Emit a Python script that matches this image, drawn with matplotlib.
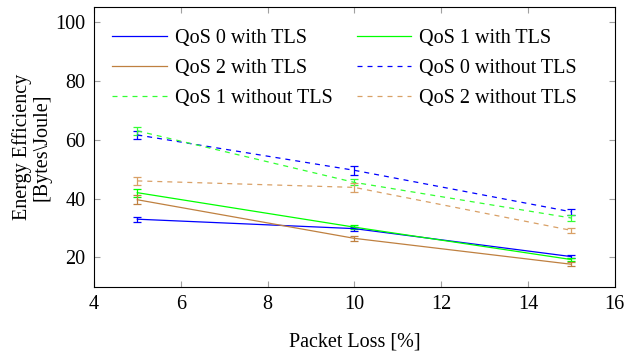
import matplotlib.pyplot as plt
from matplotlib.lines import Line2D

plt.rcParams['font.family'] = ['Liberation Serif', 'DejaVu Serif']

loss = [5, 10, 15]

qos0_tls = [33.0, 29.8, 20.3]
qos0_tls_err = [0.9, 0.7, 0.5]
qos1_tls = [42.0, 30.3, 19.3]
qos1_tls_err = [1.3, 0.6, 0.6]
qos2_tls = [39.6, 26.5, 17.7]
qos2_tls_err = [1.6, 0.9, 0.6]
qos0_notls = [61.6, 49.6, 35.5]
qos0_notls_err = [1.3, 1.5, 1.0]
qos1_notls = [63.0, 45.5, 33.4]
qos1_notls_err = [1.3, 1.0, 1.1]
qos2_notls = [46.0, 43.8, 29.2]
qos2_notls_err = [1.4, 1.4, 0.8]

dash = (0, (4, 4))
series = [
    ("QoS 0 with TLS", qos0_tls, qos0_tls_err, "#0000ff", "-"),
    ("QoS 1 with TLS", qos1_tls, qos1_tls_err, "#00ff00", "-"),
    ("QoS 2 with TLS", qos2_tls, qos2_tls_err, "#bf8040", "-"),
    ("QoS 0 without TLS", qos0_notls, qos0_notls_err, "#0000ff", dash),
    ("QoS 1 without TLS", qos1_notls, qos1_notls_err, "#33ff33", dash),
    ("QoS 2 without TLS", qos2_notls, qos2_notls_err, "#d9a066", dash),
]

fs = 14.5
fig = plt.figure(figsize=(6.26, 3.56), dpi=100)
ax = fig.add_axes([0.150, 0.194, 0.832, 0.786])

handles = []
for label, vals, err, color, ls in series:
    ax.errorbar(loss, vals, yerr=err, color=color, linestyle=ls, linewidth=0.9,
                elinewidth=0.9, capsize=3, capthick=0.9)
    handles.append(Line2D([], [], color=color, linestyle=ls, linewidth=0.9, label=label))

ax.set_xlim(4, 16)
ax.set_ylim(10, 105)
ax.set_xticks([4, 6, 8, 10, 12, 14, 16])
ax.set_yticks([20, 40, 60, 80, 100])
ax.tick_params(direction='in', length=4.5, width=0.8, color='#a0a0a0',
               labelsize=fs, top=True, right=True, pad=6)
for sp in ax.spines.values():
    sp.set_linewidth(0.8)

ax.set_xlabel("Packet Loss [%]", fontsize=fs, labelpad=13)
ax.set_ylabel("Energy Efficiency\n[Bytes\\Joule]", fontsize=fs, labelpad=3,
              linespacing=1.0)

# legend is filled row by row in the reference
order = [0, 2, 4, 1, 3, 5]
ax.legend([handles[i] for i in order], [handles[i].get_label() for i in order],
          loc='upper left', ncol=2, frameon=False, fontsize=fs,
          handlelength=2.7, handletextpad=0.4, columnspacing=1.2,
          labelspacing=0.55, borderaxespad=0.0, bbox_to_anchor=(0.02, 0.952))

fig.savefig("out.png", dpi=100)
